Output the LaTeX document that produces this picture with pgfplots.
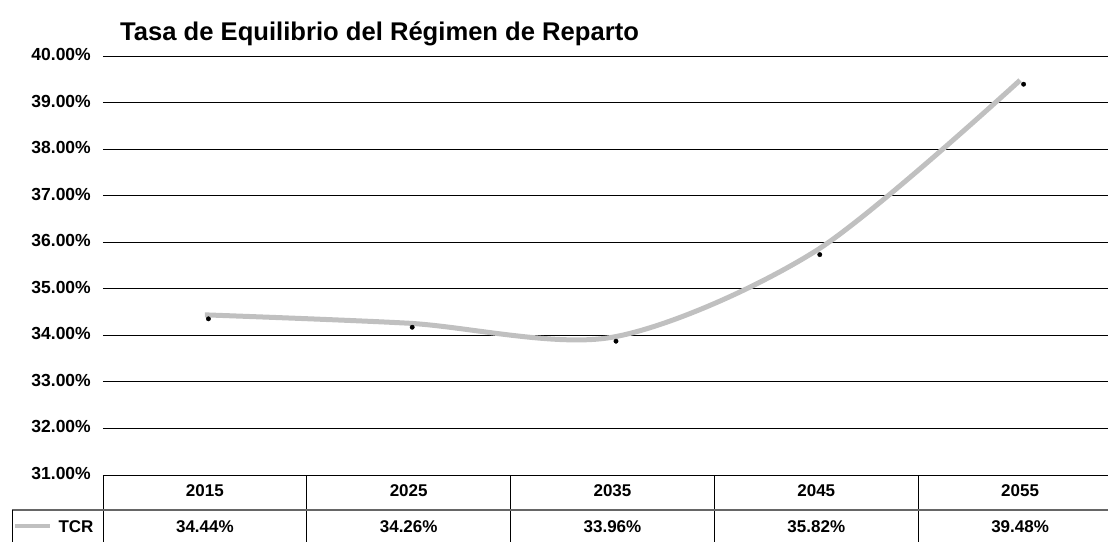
\documentclass[border=0pt]{standalone}
\usepackage{fontspec}
\setmainfont{Liberation Sans}
\usepackage{pgfplots}
\pgfplotsset{compat=1.18}
\definecolor{tcrgray}{RGB}{192,192,192}
\begin{document}
\begin{tikzpicture}[x=1pt,y=1pt]
\useasboundingbox (-103,-66) rectangle (1005,475);
\begin{axis}[
  at={(0pt,0pt)}, anchor=south west,
  width=1019pt, height=419pt, scale only axis,
  xmin=-0.5, xmax=4.5, ymin=31, ymax=40,
  axis line style={draw=none},
  ymajorgrids, grid style={black, line width=0.8pt},
  ytick={31,32,...,40},
  yticklabels={31.00\%,32.00\%,33.00\%,34.00\%,35.00\%,36.00\%,37.00\%,38.00\%,39.00\%,40.00\%},
  xtick={0,1,2,3,4},
  xticklabels={2015,2025,2035,2045,2055},
  major tick length=0pt,
  tick style={draw=none},
  yticklabel style={anchor=base east, inner sep=0pt, xshift=-12pt, yshift=-4.5pt, font=\bfseries\fontsize{17.5}{20}\selectfont},
  xticklabel style={anchor=base, inner sep=0pt, yshift=-21pt, font=\bfseries\fontsize{17}{20}\selectfont},
  clip=false,
]
\addplot[tcrgray, line width=5pt, smooth, tension=0.5] coordinates {
  (0,34.44) (1,34.26) (2,33.96) (3,35.82) (4,39.48)
};
\addplot[only marks, mark=*, mark size=2.2pt, black,
  mark options={xshift=3.5pt, yshift=-4pt}] coordinates {
  (0,34.44) (1,34.26) (2,33.96) (3,35.82) (4,39.48)
};
\foreach \i/\v in {0/34.44\%,1/34.26\%,2/33.96\%,3/35.82\%,4/39.48\%}{
  \edef\temp{\noexpand\node[font=\noexpand\bfseries\noexpand\fontsize{17}{20}\noexpand\selectfont, inner sep=0pt, anchor=base] at (axis cs:\i,31) [yshift=-57pt] {\v};}
  \temp
}
\end{axis}
% table lines
\foreach \k in {0,1,2,3,4}{
  \draw[black, line width=0.8pt] ({\k*203.8},0) -- ({\k*203.8},-70);
}
\draw[black!60, line width=1.4pt] (-91,-35) -- (1019,-35);
\draw[black, line width=0.8pt] (-91,-35) -- (-91,-70);
\draw[tcrgray, line width=4.5pt] (-88,-51) -- (-53,-51);
\node[font=\bfseries\fontsize{17}{20}\selectfont, inner sep=0pt, anchor=base] at (-27,-57) {TCR};
% title
\node[anchor=base west, inner sep=0pt, font=\bfseries\fontsize{25.6}{29}\selectfont] at (17,434) {Tasa de Equilibrio del Régimen de Reparto};
\end{tikzpicture}
\end{document}
